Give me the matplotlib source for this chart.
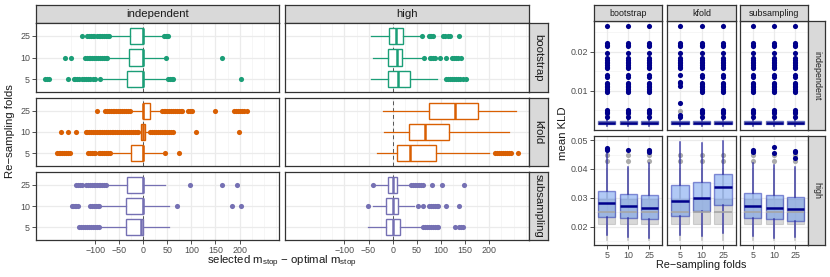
import matplotlib
matplotlib.use('Agg')
import matplotlib.pyplot as plt

plt.rcParams['font.family'] = ['Liberation Sans', 'DejaVu Sans']
plt.rcParams['mathtext.default'] = 'regular'

W, H = 830, 277

folds = ['5', '10', '25']
corr_levels = ['independent', 'high']
methods = ['bootstrap', 'kfold', 'subsampling']
method_colors = ['#1B9E77', '#D95F02', '#7570B3']

# ---- left plot: selected mstop - optimal mstop ----
# box stats per fold (5, 10, 25): [whislo, q1, med, q3, whishi]
ind_bootstrap = [[-86, -33, -1, 0, 48], [-72, -29, -1, 0, 45], [-70, -28, -1, 0, 41]]
ind_bootstrap_out = [
    [-204, -200, -196, -156, -145, -141, -137, -133, -128, -124, -119, -115, -110, -105, -100, -89, 52, 55, 59, 62, 202],
    [-163, -150, -121, -117, -113, -110, -106, -102, -98, -94, -90, -86, -82, -78, -75, 47, 164],
    [-128, -116, -112, -108, -104, -102, -97, -93, -89, -85, -81, -77, -74, -71, 44, 47, 50, 52],
]
ind_kfold = [[-65, -26, 0, 0, 41], [-8, -5.5, 0, 3.5, 12], [-24, 0, 0, 14, 36]]
ind_kfold_out = [
    [-180, -176, -173, -169, -165, -161, -156, -152, -114, -110, -106, -102, -100, -93, -89, -85, -81, -77, -73, -69, 45, 75],
    [-172, -156, -139, -120, -116, -112, -108, -104, -100, -96, -93, -90, -86, -82, -78, -74, -70, -66, -62, -58, -54,
     -50, -46, -42, -38, -34, -30, -26, -22, -18, -14, -10, 14, 18, 22, 26, 30, 34, 38, 42, 46, 50, 54, 58, 62, 109, 199],
    [-97, -80, -76, -72, -68, -64, -60, -56, -52, -48, -44, -40, -36, -32, -28, 38, 42, 46, 50, 54, 58, 62, 66, 70, 74,
     78, 80, 93, 97, 102, 149, 188, 192, 196, 200, 205, 210, 215],
]
ind_subsampling = [[-90, -37, -5.5, 0, 53], [-90, -37, -1.4, 0, 54], [-76, -33, -0.5, 0, 46]]
ind_subsampling_out = [
    [-133, -129, -125, -121, -117, -113, -109, -105, -101, -97, -93],
    [-149, -146, -142, -139, -135, -111, -107, -103, -99, -95, -92, 71, 184, 202],
    [-140, -136, -132, -128, -119, -115, -111, -107, -103, -100, -97, -93, -89, -85, -81, -78, 98, 163, 195],
]
high_bootstrap = [[-46, -10, 10, 35, 92], [-41, -10, 8, 19, 62], [-44, -8, 6, 21, 56]]
high_bootstrap_out = [
    [110, 114, 118, 122, 127, 131, 136, 140, 145, 152],
    [65, 77, 80, 84, 87, 98, 110, 122, 126, 131, 136, 142],
    [60, 74, 77, 80, 84, 105, 109, 114, 119, 138],
]
high_kfold = [[-33, 8, 35, 89, 200], [-19, 34, 67, 117, 240], [-20, 75, 129, 176, 256]]
high_kfold_out = [[212, 216, 220, 224, 228, 232, 236, 240, 244, 260], [], []]
high_subsampling = [[-52, -14, 1.4, 14, 59], [-40, -13, 0, 10.5, 45], [-36, -10, 0.5, 9, 35]]
high_subsampling_out = [
    [63, 67, 71, 75, 79, 83, 87, 91, 94, 129, 138, 142, 146],
    [-52, 52, 63, 75, 79, 83, 87, 91, 94, 111, 138],
    [-41, 38, 42, 46, 50, 54, 58, 63, 81, 102, 148],
]
x_ticks = [-100, -50, 0, 50, 100, 150, 200]
x_minor = [-150, -125, -75, -25, 25, 75, 125, 175, 225, 250, 275]

# ---- right plot: mean KLD ----
kld_ind_stats = [0.0009, 0.0014, 0.0018, 0.0023, 0.0031]
kld_ind_out = [0.0266, 0.02215, 0.0218, 0.02146, 0.01974, 0.01831, 0.0179, 0.01744, 0.0170, 0.01659, 0.0162,
               0.01574, 0.01403, 0.01344, 0.0121, 0.0117, 0.0113, 0.0109, 0.0104, 0.0100, 0.00974, 0.00505, 0.0046,
               0.0042, 0.00318]
kld_ind_out_kfold5 = [0.0266, 0.02215, 0.0218, 0.02146, 0.01974, 0.01831, 0.0179, 0.01744, 0.0170, 0.01659,
                      0.0162, 0.01574, 0.0140, 0.0123, 0.0119, 0.0112, 0.0068, 0.0037, 0.0032]
kld_ind_ref = [0.0009, 0.0014, 0.0018, 0.0023, 0.0030]
kld_ind_ref_out = [0.0034, 0.0049]

kld_high_bootstrap = [[0.0171, 0.0233, 0.0283, 0.0324, 0.0455], [0.0163, 0.0229, 0.0273, 0.0313, 0.0408],
                      [0.0160, 0.0226, 0.0265, 0.0309, 0.0420]]
kld_high_bootstrap_out = [[0.0465, 0.0469, 0.0473], [0.0465], [0.0458, 0.0462, 0.0467]]
kld_high_kfold = [[0.0171, 0.0239, 0.0290, 0.0343, 0.0492], [0.0167, 0.0253, 0.0298, 0.0355, 0.0490],
                  [0.0177, 0.0275, 0.0338, 0.0383, 0.0497]]
kld_high_kfold_out = [[], [], []]
kld_high_subsampling = [[0.0167, 0.0231, 0.0272, 0.0316, 0.0420], [0.0160, 0.0226, 0.0266, 0.0309, 0.0415],
                        [0.0163, 0.0221, 0.0260, 0.0304, 0.0408]]
kld_high_subsampling_out = [[0.0458, 0.0463, 0.0467], [0.0454, 0.0477], [0.0438, 0.0458, 0.0463]]
kld_high_ref = [0.0155, 0.0208, 0.0252, 0.0297, 0.0400]
kld_high_ref_out = [0.0427, 0.0448]

kld_ind_ticks = [0.01, 0.02]
kld_high_ticks = [0.02, 0.03, 0.04, 0.05]
kld_ind_minor = [0.005, 0.015, 0.025]
kld_high_minor = [0.015, 0.025, 0.035, 0.045]

left_stats = {
    ('independent', 'bootstrap'): (ind_bootstrap, ind_bootstrap_out),
    ('independent', 'kfold'): (ind_kfold, ind_kfold_out),
    ('independent', 'subsampling'): (ind_subsampling, ind_subsampling_out),
    ('high', 'bootstrap'): (high_bootstrap, high_bootstrap_out),
    ('high', 'kfold'): (high_kfold, high_kfold_out),
    ('high', 'subsampling'): (high_subsampling, high_subsampling_out),
}
kld_high = {
    'bootstrap': (kld_high_bootstrap, kld_high_bootstrap_out),
    'kfold': (kld_high_kfold, kld_high_kfold_out),
    'subsampling': (kld_high_subsampling, kld_high_subsampling_out),
}

BORDER = '#333333'
GRID = '#EBEBEB'
GRID_MINOR = '#F3F3F3'
TICKCOL = '#4D4D4D'


def to_bxp(stats, outs):
    res = []
    for s, o in zip(stats, outs):
        res.append({'whislo': s[0], 'q1': s[1], 'med': s[2], 'q3': s[3], 'whishi': s[4], 'fliers': o})
    return res


def px_axes(fig, x0, y0, x1, y1):
    return fig.add_axes([x0 / W, 1 - y1 / H, (x1 - x0) / W, (y1 - y0) / H])


def style_panel(ax):
    for s in ax.spines.values():
        s.set_color(BORDER)
        s.set_linewidth(0.9)
    ax.tick_params(color=BORDER, labelcolor=TICKCOL, length=2.75, width=0.6, pad=1.5, labelsize=6.4)


def strip(fig, box, text, rot=0, size=8.3):
    sa = px_axes(fig, *box)
    sa.set_facecolor('#D9D9D9')
    sa.set_xticks([])
    sa.set_yticks([])
    for s in sa.spines.values():
        s.set_color(BORDER)
        s.set_linewidth(0.9)
    sa.text(0.5, 0.5, text, rotation=rot, ha='center', va='center', fontsize=size, color='#1A1A1A',
            transform=sa.transAxes)


fig = plt.figure(figsize=(W / 100, H / 100), dpi=100)

# ---------------- left plot ----------------
cols_x = [(36, 279), (285, 529)]
rows_y = [(23, 92), (98, 166), (172, 240)]

for ci, corr in enumerate(corr_levels):
    x0, x1 = cols_x[ci]
    strip(fig, (x0, 5, x1, 23), corr, size=8.2)
    for ri, meth in enumerate(methods):
        y0, y1 = rows_y[ri]
        col = method_colors[ri]
        ax = px_axes(fig, x0, y0, x1, y1)
        ax.set_xlim(-223, 282)
        ax.set_ylim(0.4, 3.6)
        for v in x_minor:
            ax.axvline(v, color=GRID_MINOR, lw=0.5, zorder=0)
        for v in x_ticks:
            ax.axvline(v, color=GRID, lw=0.9, zorder=0)
        for p in [1, 2, 3]:
            ax.axhline(p, color=GRID, lw=0.9, zorder=0)
        ax.axvline(0, color='#555555', lw=0.7, ls=(0, (4, 3)), zorder=1)
        stats, outs = left_stats[(corr, meth)]
        ax.bxp(to_bxp(stats, outs), positions=[1, 2, 3], widths=0.75, orientation='horizontal',
               patch_artist=True, showcaps=False,
               boxprops=dict(facecolor='white', edgecolor=col, linewidth=1.0),
               medianprops=dict(color=col, linewidth=1.8),
               whiskerprops=dict(color=col, linewidth=0.9),
               flierprops=dict(marker='o', markerfacecolor=col, markeredgecolor='none', markersize=3.7))
        style_panel(ax)
        ax.set_xticks(x_ticks)
        ax.set_yticks([1, 2, 3])
        if ri == 2:
            ax.set_xticklabels([str(v).replace('-', '\u2212') for v in x_ticks])
        else:
            ax.tick_params(axis='x', length=0, labelbottom=False)
        if ci == 0:
            ax.set_yticklabels(folds)
        else:
            ax.tick_params(axis='y', length=0, labelleft=False)
        if ci == 1:
            strip(fig, (529, y0, 548, y1), meth, rot=-90, size=8.2)

fig.text(10 / W, 1 - 131 / H, 'Re\u2212sampling folds', rotation=90, ha='center', va='center', fontsize=8.2,
         color='#1A1A1A')
fig.text(282 / W, 1 - 262 / H, 'selected $m_{stop}$ \u2212 optimal $m_{stop}$', ha='center', va='center',
         fontsize=8.2, color='#1A1A1A')

# ---------------- right plot ----------------
rcols = [(594, 662), (667, 736), (740, 808)]
rrows = [(21, 130), (136, 245)]

for ri, corr in enumerate(corr_levels):
    y0, y1 = rrows[ri]
    for ci, meth in enumerate(methods):
        x0, x1 = rcols[ci]
        ax = px_axes(fig, x0, y0, x1, y1)
        ax.set_xlim(0.4, 3.6)
        if ri == 0:
            ax.set_ylim(-0.0001, 0.0279)
            ticks, minor = kld_ind_ticks, kld_ind_minor
            ref = [kld_ind_ref] * 3
            ref_out = [kld_ind_ref_out] * 3
            stats = [kld_ind_stats] * 3
            outs = [kld_ind_out_kfold5 if (meth == 'kfold' and k == 0) else kld_ind_out for k in range(3)]
        else:
            ax.set_ylim(0.0137, 0.0514)
            ticks, minor = kld_high_ticks, kld_high_minor
            ref = [kld_high_ref] * 3
            ref_out = [kld_high_ref_out] * 3
            stats, outs = kld_high[meth]
        for v in minor:
            ax.axhline(v, color=GRID_MINOR, lw=0.5, zorder=0)
        for v in ticks:
            ax.axhline(v, color=GRID, lw=0.9, zorder=0)
        for p in [1, 2, 3]:
            ax.axvline(p, color=GRID, lw=0.9, zorder=0)
        ax.bxp(to_bxp(ref, ref_out), positions=[1, 2, 3], widths=0.8, patch_artist=True, showcaps=False,
               boxprops=dict(facecolor='#BEBEBE', alpha=0.6, edgecolor='#B5B5B5', linewidth=0.8),
               medianprops=dict(color='#A6A6A6', linewidth=1.2),
               whiskerprops=dict(color='#C8C8C8', linewidth=1.2),
               flierprops=dict(marker='o', markerfacecolor='#ABABAB', markeredgecolor='none', markersize=3.7))
        ax.bxp(to_bxp(stats, outs), positions=[1, 2, 3], widths=0.8, patch_artist=True, showcaps=False,
               boxprops=dict(facecolor='#6495ED', alpha=0.5, edgecolor='#1F2AAE', linewidth=1.0),
               medianprops=dict(color='#00008B', linewidth=1.8),
               whiskerprops=dict(color='#2A2AA0', linewidth=1.1, alpha=0.85),
               flierprops=dict(marker='o', markerfacecolor='#00008B', markeredgecolor='none', markersize=3.7))
        style_panel(ax)
        ax.set_xticks([1, 2, 3])
        ax.set_yticks(ticks)
        if ri == 1:
            ax.set_xticklabels(folds)
        else:
            ax.tick_params(axis='x', length=0, labelbottom=False)
        if ci == 0:
            ax.set_yticklabels(['%.2f' % v for v in ticks])
        else:
            ax.tick_params(axis='y', length=0, labelleft=False)
        if ri == 0:
            strip(fig, (x0, 5, x1, 21), meth, size=6.4)
    strip(fig, (808, y0, 825, y1), corr, rot=-90, size=6.4)

fig.text(563 / W, 1 - 133 / H, 'mean KLD', rotation=90, ha='center', va='center', fontsize=8.2, color='#1A1A1A')
fig.text(701 / W, 1 - 265 / H, 'Re\u2212sampling folds', ha='center', va='center', fontsize=7.8, color='#1A1A1A')

fig.savefig('out.png', dpi=100)
